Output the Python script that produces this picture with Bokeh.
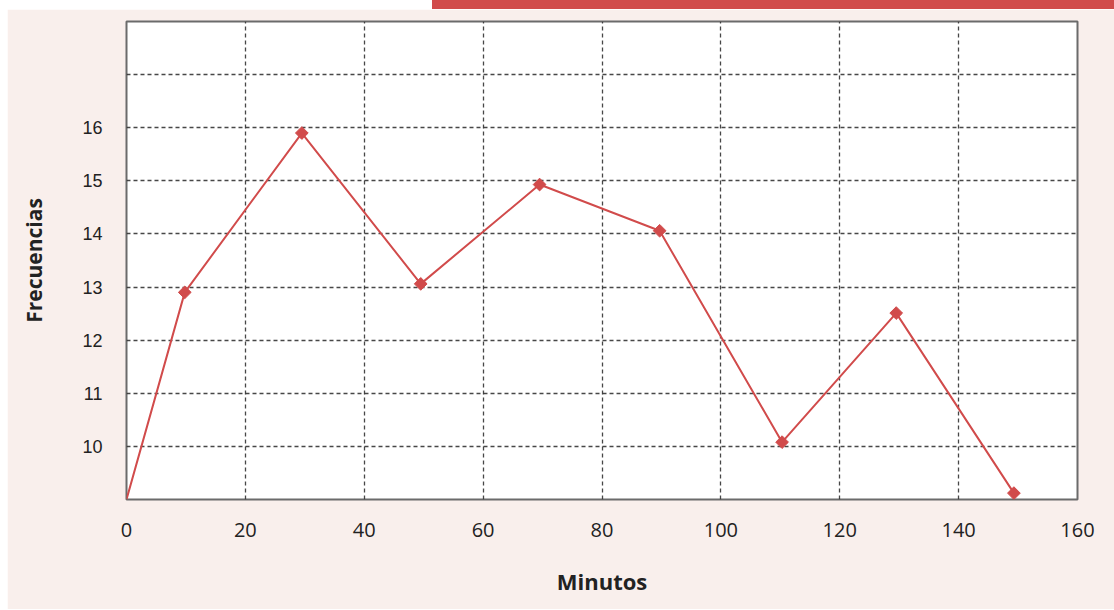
from bokeh.plotting import figure
from bokeh.models import FixedTicker, Div
from bokeh.layouts import column
from bokeh.embed import file_html
from bokeh.resources import INLINE

minutes = [0, 9.8, 29.5, 49.5, 69.5, 89.7, 110.3, 129.5, 149.3]
freqs = [9.0, 12.9, 15.9, 13.06, 14.93, 14.06, 10.08, 12.51, 9.12]
x_ticks = [0, 20, 40, 60, 80, 100, 120, 140, 160]
x_grid = [20, 40, 60, 80, 100, 120, 140]
y_ticks = [10, 11, 12, 13, 14, 15, 16]
y_grid = [10, 11, 12, 13, 14, 15, 16, 17]

PINK = "#F9EFEC"
RED = "#D14B4B"

p = figure(width=1107, height=600, x_range=(0, 160), y_range=(9, 18),
           output_backend="svg", toolbar_location=None,
           min_border_left=119, min_border_right=37,
           min_border_top=12, min_border_bottom=110,
           margin=(0, 0, 0, 7))
p.border_fill_color = PINK
p.background_fill_color = "white"
p.outline_line_color = "#6b6b6b"
p.outline_line_width = 2

p.xaxis.ticker = FixedTicker(ticks=x_ticks)
p.yaxis.ticker = FixedTicker(ticks=y_ticks)
p.xgrid.ticker = FixedTicker(ticks=x_grid)
p.ygrid.ticker = FixedTicker(ticks=y_grid)
for g in (p.xgrid, p.ygrid):
    g.grid_line_color = "#333333"
    g.grid_line_dash = "4 3"
    g.grid_line_width = 1.3
    g.grid_line_alpha = 0.9

for ax in (p.xaxis, p.yaxis):
    ax.axis_line_color = None
    ax.major_tick_line_color = None
    ax.minor_tick_line_color = None
    ax.major_label_text_color = "#222222"
    ax.axis_label_text_color = "#222222"
    ax.axis_label_text_font_style = "bold"
    ax.axis_label_text_font = "Open Sans"

p.xaxis.major_label_text_font = "Open Sans"
p.xaxis.major_label_text_font_size = "20px"
p.xaxis.major_label_standoff = 17
p.xaxis.axis_label = "Minutos"
p.xaxis.axis_label_text_font_size = "22px"
p.xaxis.axis_label_standoff = 26

p.yaxis.major_label_text_font = "Liberation Sans"
p.yaxis.major_label_text_font_size = "18px"
p.yaxis.major_label_standoff = 18
p.yaxis.axis_label = "Frecuencias"
p.yaxis.axis_label_text_font_size = "21px"
p.yaxis.axis_label_standoff = 31

p.line(minutes, freqs, line_color=RED, line_width=2)
p.scatter(minutes[1:], freqs[1:], marker="square", angle=0.785, size=9,
          fill_color=RED, line_color=RED)

bar = Div(text="", width=682, height=9, margin=(0, 0, 0, 432),
          styles={"background-color": RED})

layout = column(bar, p, spacing=0)
open("out.html", "w").write(file_html(layout, INLINE))
